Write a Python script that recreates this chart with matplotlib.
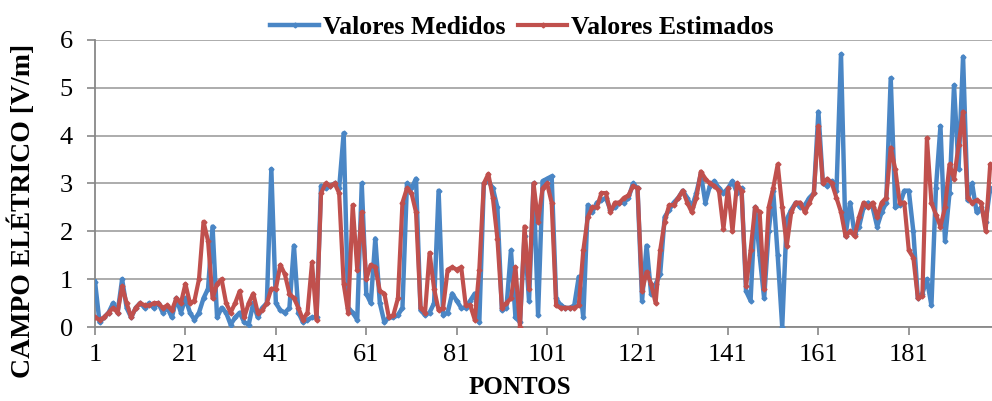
import numpy as np
import matplotlib
matplotlib.use("Agg")
import matplotlib.pyplot as plt

plt.rcParams['font.family'] = ['Liberation Serif', 'DejaVu Serif']

# valores (pontos 1..200)
medidos = [
    0.95, 0.1, 0.2, 0.3, 0.5, 0.3, 1.0, 0.4, 0.2, 0.4, 0.5, 0.4, 0.5, 0.4, 0.5, 0.3, 0.4, 0.2, 0.6, 0.3,
    0.6, 0.3, 0.15, 0.3, 0.6, 0.8, 2.1, 0.2, 0.4, 0.3, 0.05, 0.2, 0.3, 0.1, 0.05, 0.5, 0.2, 0.4, 0.5, 3.3,
    0.5, 0.35, 0.3, 0.4, 1.7, 0.3, 0.1, 0.15, 0.2, 0.2, 2.95, 2.9, 2.95, 3.0, 2.9, 4.05, 0.4, 0.3, 0.15, 3.0,
    0.7, 0.5, 1.85, 0.5, 0.1, 0.2, 0.2, 0.25, 0.4, 3.0, 2.9, 3.1, 0.35, 0.25, 0.3, 0.5, 2.85, 0.25, 0.3, 0.7,
    0.55, 0.4, 0.4, 0.55, 0.7, 0.1, 3.0, 3.05, 2.9, 2.5, 0.35, 0.4, 1.6, 0.2, 0.1, 1.9, 0.55, 3.0, 0.25, 3.05,
    3.1, 3.15, 0.6, 0.45, 0.4, 0.4, 0.45, 1.05, 0.2, 2.55, 2.4, 2.6, 2.65, 2.7, 2.45, 2.5, 2.6, 2.6, 2.7, 3.0,
    2.9, 0.55, 1.7, 0.7, 0.9, 1.1, 2.3, 2.45, 2.6, 2.7, 2.85, 2.7, 2.5, 2.8, 3.2, 2.6, 2.95, 3.05, 2.9, 2.8,
    2.9, 3.05, 2.8, 2.9, 0.75, 0.55, 2.5, 1.5, 0.6, 2.0, 2.85, 1.5, 0.0, 2.25, 2.45, 2.6, 2.5, 2.55, 2.7, 2.8,
    4.5, 3.0, 2.95, 3.05, 2.85, 5.7, 1.9, 2.6, 1.95, 2.1, 2.5, 2.6, 2.5, 2.1, 2.4, 2.6, 5.2, 2.5, 2.55, 2.85,
    2.85, 2.0, 0.6, 0.7, 1.0, 0.45, 2.9, 4.2, 1.8, 2.8, 5.05, 3.3, 5.65, 2.65, 3.0, 2.4, 2.5, 2.2, 2.9, 2.8,
]

estimados = [
    0.2, 0.15, 0.2, 0.3, 0.4, 0.3, 0.85, 0.5, 0.2, 0.4, 0.5, 0.45, 0.45, 0.5, 0.5, 0.4, 0.45, 0.35, 0.6, 0.5,
    0.9, 0.5, 0.55, 1.0, 2.2, 1.8, 0.6, 0.9, 1.0, 0.5, 0.3, 0.5, 0.75, 0.2, 0.5, 0.7, 0.3, 0.35, 0.5, 0.8,
    0.8, 1.3, 1.1, 0.7, 0.6, 0.4, 0.15, 0.3, 1.35, 0.15, 2.8, 3.0, 2.95, 3.0, 2.8, 0.9, 0.3, 2.55, 1.2, 2.4,
    1.0, 1.3, 1.25, 0.75, 0.7, 0.2, 0.25, 0.6, 2.6, 2.9, 2.8, 2.4, 0.4, 0.3, 1.55, 0.8, 0.35, 0.4, 1.2, 1.25,
    1.2, 1.25, 0.45, 0.45, 0.15, 1.2, 3.0, 3.2, 2.7, 1.85, 0.4, 0.5, 0.6, 1.25, 0.0, 2.1, 0.8, 3.0, 2.2, 2.9,
    3.0, 2.6, 0.45, 0.4, 0.4, 0.4, 0.4, 0.45, 1.6, 2.3, 2.5, 2.5, 2.8, 2.8, 2.4, 2.6, 2.6, 2.7, 2.75, 2.95,
    2.9, 0.75, 1.15, 0.9, 0.5, 1.6, 2.2, 2.55, 2.55, 2.7, 2.85, 2.6, 2.4, 2.7, 3.25, 3.1, 3.0, 2.95, 2.85, 2.05,
    2.9, 2.0, 3.0, 2.85, 0.85, 1.6, 2.5, 2.4, 0.8, 2.5, 2.9, 3.4, 2.5, 1.7, 2.4, 2.6, 2.6, 2.4, 2.6, 2.8,
    4.2, 3.0, 3.1, 3.0, 2.7, 2.4, 1.9, 2.0, 1.9, 2.3, 2.6, 2.5, 2.6, 2.3, 2.6, 2.7, 3.75, 3.3, 2.6, 2.6,
    1.6, 1.45, 0.6, 0.65, 3.95, 2.6, 2.35, 2.1, 2.5, 3.4, 3.1, 3.8, 4.5, 2.7, 2.6, 2.65, 2.6, 2.0, 3.4, 3.3,
]

pontos = np.arange(1, len(medidos) + 1)
xticks = [1, 21, 41, 61, 81, 101, 121, 141, 161, 181]
yticks = [0, 1, 2, 3, 4, 5, 6]

azul = '#4A86C5'
vermelho = '#C0504D'

fig = plt.figure(figsize=(9.92, 4.01), dpi=100)
ax = fig.add_axes([95 / 992, 1 - 327 / 401, 897 / 992, 287 / 401])

ax.plot(pontos, medidos, color=azul, lw=3.2, marker='D', ms=2.5,
        label='Valores Medidos', zorder=3)
ax.plot(pontos, estimados, color=vermelho, lw=3.0, marker='D', ms=2.5,
        label='Valores Estimados', zorder=4)

ax.set_xlim(1, 199.4)
ax.set_ylim(0, 6)
ax.set_xticks(xticks)
ax.set_yticks(yticks)
ax.tick_params(axis='both', labelsize=19, color='#888888', length=6, width=1.2)
ax.tick_params(axis='x', pad=6)
ax.tick_params(axis='y', pad=10)

ax.grid(axis='y', color='#A6A6A6', lw=1.3)
ax.set_axisbelow(True)
for s in ['top', 'right']:
    ax.spines[s].set_visible(False)
for s in ['left', 'bottom']:
    ax.spines[s].set_color('#888888')
    ax.spines[s].set_linewidth(1.3)

fig.text(22 / 992, 1 - 211 / 401, 'CAMPO ELÉTRICO [V/m]', rotation=90,
         ha='center', va='center', fontsize=20, fontweight='bold')
fig.text(520 / 992, 1 - 388 / 401, 'PONTOS', ha='center', va='center',
         fontsize=18, fontweight='bold')

fig.legend(loc='center', bbox_to_anchor=(522 / 992, 1 - 27 / 401), ncol=2,
           frameon=False, prop={'size': 18.5, 'weight': 'bold'},
           handlelength=1.9, handletextpad=0.15, columnspacing=0.5)

fig.savefig('out.png', dpi=100)
